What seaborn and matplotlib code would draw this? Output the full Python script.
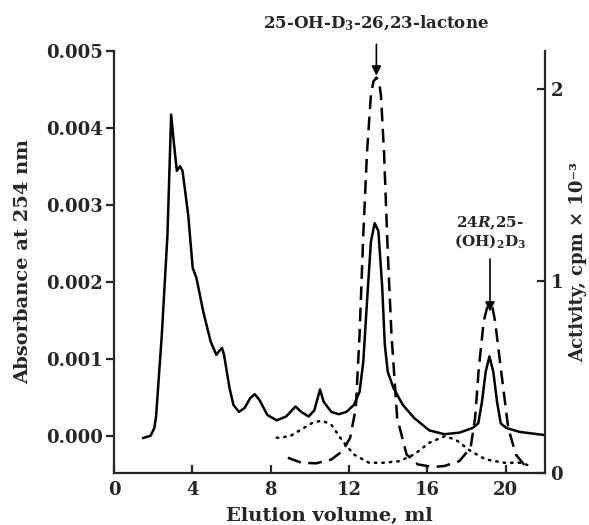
import matplotlib
matplotlib.use("Agg")
import matplotlib.pyplot as plt
import seaborn as sns
import pandas as pd

# ---------------- data ----------------
abs_x = [1.48, 1.87, 2.06, 2.15, 2.44, 2.73, 2.92, 3.06, 3.21, 3.37, 3.5, 3.79, 4.02, 4.21,
         4.56, 4.94, 5.23, 5.37, 5.52, 5.62, 5.9, 6.1, 6.38, 6.67, 6.96, 7.19, 7.44, 7.83,
         8.31, 8.79, 9.27, 9.56, 9.94, 10.23, 10.52, 10.71, 11.1, 11.48, 11.87, 12.25,
         12.54, 12.73, 12.92, 13.12, 13.31, 13.5, 13.69, 13.83, 13.98, 14.27, 14.75, 15.33,
         16.1, 16.87, 17.63, 18.31, 18.6, 18.79, 18.98, 19.17, 19.37, 19.56, 19.75, 20.04,
         20.71, 21.96]
abs_y = [-0.00003, 0.0, 0.0001, 0.00025, 0.0013, 0.0026, 0.00417, 0.0038, 0.00344, 0.0035,
         0.00344, 0.00287, 0.00218, 0.00205, 0.00161, 0.00122, 0.00105, 0.0011, 0.00114,
         0.00105, 0.00062, 0.0004, 0.00031, 0.00036, 0.00049, 0.00054, 0.00046, 0.00027,
         0.0002, 0.00025, 0.00038, 0.00031, 0.00025, 0.00033, 0.0006, 0.00044, 0.00031,
         0.00028, 0.00031, 0.0004, 0.00057, 0.00096, 0.00174, 0.00252, 0.00276, 0.00266,
         0.00196, 0.00118, 0.00083, 0.00062, 0.0004, 0.00023, 0.00007, 0.00002, 0.00004,
         0.0001, 0.00016, 0.00044, 0.00083, 0.00103, 0.00083, 0.00044, 0.00016, 0.0001,
         0.00005, 0.00001]

dash_x = [8.88, 9.56, 10.33, 11.1, 11.67, 12.06, 12.35, 12.54, 12.73, 12.92, 13.12, 13.25,
          13.4, 13.53, 13.63, 13.79, 13.98, 14.17, 14.46, 14.94, 15.52, 16.29, 16.87, 17.63,
          18.21, 18.44, 18.63, 18.88, 19.05, 19.2, 19.33, 19.46, 19.75, 20.13, 20.52, 21.0]
dash_y = [0.078, 0.052, 0.049, 0.069, 0.113, 0.182, 0.338, 0.72, 1.24, 1.67, 1.97, 2.04,
          2.06, 2.04, 1.97, 1.67, 1.15, 0.72, 0.286, 0.095, 0.043, 0.03, 0.035, 0.06,
          0.13, 0.286, 0.546, 0.79, 0.86, 0.88, 0.86, 0.79, 0.546, 0.234, 0.095, 0.035]

dot_x = [8.31, 8.98, 9.56, 10.13, 10.62, 11.1, 11.67, 12.25, 13.02, 13.79, 14.56, 15.33,
         16.1, 16.87, 17.44, 18.21, 18.98, 19.94, 20.71, 21.29]
dot_y = [0.182, 0.19, 0.225, 0.26, 0.272, 0.25, 0.165, 0.095, 0.052, 0.052, 0.06, 0.095,
         0.156, 0.19, 0.173, 0.113, 0.069, 0.052, 0.052, 0.035]

x_ticks = [0, 4, 8, 12, 16, 20]
left_ticks = [0.000, 0.001, 0.002, 0.003, 0.004, 0.005]
right_ticks = [0, 1, 2]

peak_labels = ["25-OH-D$_\\mathbf{3}$-26,23-lactone", "24$\\mathit{R}$,25-\n(OH)$_\\mathbf{2}$D$_\\mathbf{3}$"]
peak_pos = [13.4, 19.2]

# ---------------- style ----------------
sns.set_style("ticks")
plt.rcParams["font.family"] = ["DejaVu Serif"]
plt.rcParams["font.weight"] = "bold"
plt.rcParams["mathtext.fontset"] = "dejavuserif"
plt.rcParams["mathtext.default"] = "bf"

fig = plt.figure(figsize=(5.89, 5.25), dpi=100)
ax = fig.add_axes([0.1935, 0.0996, 0.7315, 0.8038])
ax2 = ax.twinx()

df_abs = pd.DataFrame({"x": abs_x, "y": abs_y})
df_dash = pd.DataFrame({"x": dash_x, "y": dash_y})
df_dot = pd.DataFrame({"x": dot_x, "y": dot_y})

sns.lineplot(data=df_abs, x="x", y="y", ax=ax, color="black", lw=1.8,
             sort=False, estimator=None)
sns.lineplot(data=df_dash, x="x", y="y", ax=ax2, color="black", lw=1.8,
             sort=False, estimator=None, linestyle=(0, (5.5, 3)))
sns.lineplot(data=df_dot, x="x", y="y", ax=ax2, color="black", lw=1.8,
             sort=False, estimator=None, linestyle=(0, (0.6, 2.4)),
             dash_capstyle="round")

ax.set_xlim(0, 22)
ax.set_ylim(-0.00048, 0.005)
ax2.set_ylim(0, 2.2)

ax.set_xticks(x_ticks)
ax.set_xticklabels([str(t) for t in x_ticks])
ax.set_yticks(left_ticks)
ax.set_yticklabels([f"{t:.3f}" for t in left_ticks])
ax2.set_yticks(right_ticks)
ax2.set_yticklabels([str(t) for t in right_ticks])

for a in (ax, ax2):
    a.spines["top"].set_visible(False)
    for s in a.spines.values():
        s.set_linewidth(1.6)
ax.spines["right"].set_visible(False)
ax2.spines["left"].set_visible(False)
ax2.spines["bottom"].set_visible(False)
ax.spines["left"].set_bounds(-0.00048, 0.005)

ax.tick_params(axis="y", direction="out", length=6, width=1.6, labelsize=13, pad=2)
ax.tick_params(axis="x", direction="in", length=6, width=1.6, labelsize=13, pad=6)
ax2.tick_params(axis="y", direction="in", length=6, width=1.6, labelsize=13, pad=4)

ax.set_xlabel("Elution volume, ml", fontsize=14, fontweight="bold", labelpad=6)
ax.set_ylabel("Absorbance at 254 nm", fontsize=14, fontweight="bold", labelpad=10)
ax2.set_ylabel("")
fig.text(0.967, 0.50, "Activity, cpm × 10⁻³", rotation=90, fontsize=13,
         fontweight="bold", ha="left", va="center")

# peak annotations
ax2.annotate(peak_labels[0], xy=(peak_pos[0], 2.07), xytext=(peak_pos[0], 2.345),
             ha="center", va="center", fontsize=12, fontweight="bold",
             annotation_clip=False,
             arrowprops=dict(arrowstyle="-|>", color="black", lw=1.2,
                             mutation_scale=14, shrinkA=6, shrinkB=0))
ax2.annotate(peak_labels[1], xy=(peak_pos[1], 0.84), xytext=(peak_pos[1], 1.16),
             ha="center", va="bottom", fontsize=11, fontweight="bold",
             linespacing=1.0, annotation_clip=False,
             arrowprops=dict(arrowstyle="-|>", color="black", lw=1.2,
                             mutation_scale=14, shrinkA=4, shrinkB=0))

fig.savefig("out.png", dpi=100)
